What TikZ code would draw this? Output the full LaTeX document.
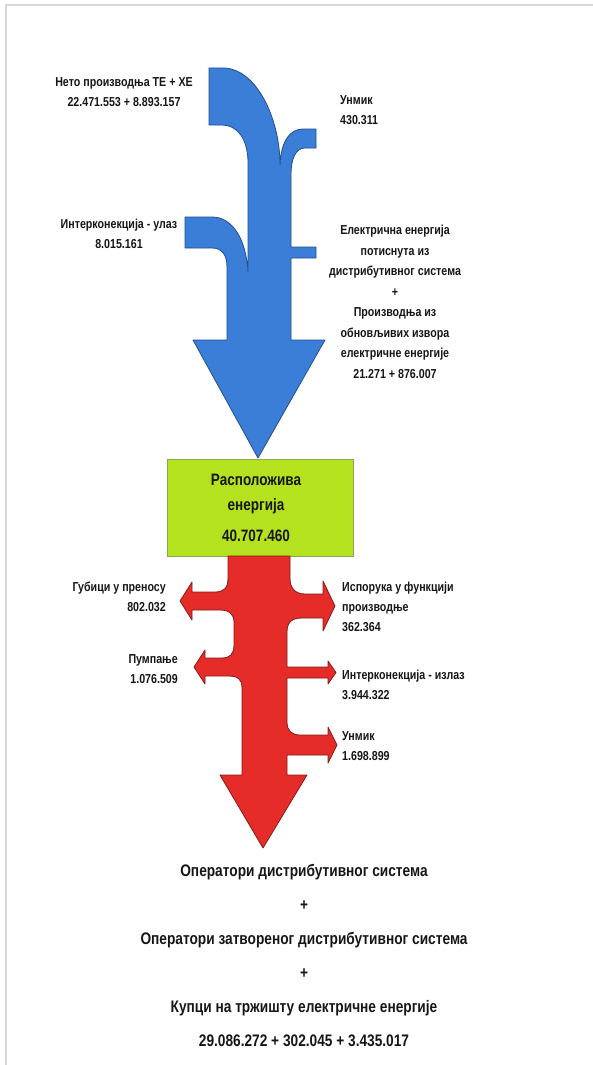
\documentclass[tikz,border=0pt]{standalone}
\usepackage{fontspec}
\setmainfont{Liberation Sans}[FakeStretch=0.82]
\usepackage{tikz}
\usetikzlibrary{positioning}
\definecolor{flowblue}{RGB}{58,126,216}
\definecolor{flowblueedge}{RGB}{38,78,140}
\definecolor{flowred}{RGB}{230,44,40}
\definecolor{flowrededge}{RGB}{130,28,28}
\definecolor{availgreen}{RGB}{180,226,30}
\definecolor{availedge}{RGB}{138,168,84}
\definecolor{txt}{RGB}{22,22,22}
\definecolor{frame}{RGB}{215,215,215}
\newcommand{\lblfont}{\fontsize{13}{20}\selectfont\bfseries}
\newcommand{\bigfont}{\fontsize{16.5}{25}\selectfont\bfseries}
\newcommand{\sinkfont}{\fontsize{16.7}{34}\selectfont\bfseries}
\tikzset{
  lbl/.style={inner sep=0pt, font=\lblfont, text=txt},
  inflow/.style={fill=flowblue, draw=flowblueedge, line width=0.8pt, line join=round},
  outflow/.style={fill=flowred, draw=flowrededge, line width=0.8pt, line join=round},
  availbox/.style={rectangle, fill=availgreen, draw=availedge, line width=0.8pt,
                   minimum width=186pt, minimum height=97pt, inner sep=0pt},
}
\begin{document}
\begin{tikzpicture}[x=1pt, y=-1pt]
  \useasboundingbox (0,0) rectangle (593,1065);
  \draw[frame, line width=1.2pt] (6,1065) -- (6,5) -- (593,5);

  \path[inflow] (209,68) -- (223,68) .. controls (256,68) and (280,118) .. (280,165)
    .. controls (281,141) and (290,129) .. (303,129) -- (316,129) -- (316,148)
    -- (305,148) .. controls (296,148) and (291,158) .. (291,175)
    -- (291,247) -- (316,247) -- (316,258) -- (291,258) -- (291,340)
    -- (325,340) -- (258,458) -- (193,340) -- (227,340) -- (227,267)
    .. controls (227,255) and (222,248) .. (212,248) -- (185,248) -- (185,217)
    -- (212,217) .. controls (232,217) and (246,238) .. (248,272)
    -- (248,160) .. controls (247,138) and (237,125) .. (222,125) -- (209,125) -- cycle;

  \node[availbox] (avail) at (260,507.5) {};
  \node[inner sep=0pt, font=\bigfont, text=txt, align=center, anchor=north]
    (availtxt) at (256,474) {Расположива\\енергија\\[6pt]40.707.460};

  \path[outflow] (228,556) -- (290,556) -- (290,578) .. controls (290,588) and (295,594) .. (305,594)
    -- (323,594) -- (323,581) -- (335,606) -- (323,631) -- (323,618)
    -- (302,618) .. controls (292,618) and (287,622) .. (287,632)
    -- (287,667) -- (328,667) -- (328,661) -- (336,672.5) -- (328,684) -- (328,678)
    -- (287,678) -- (287,722) .. controls (287,731) and (292,735) .. (300,735)
    -- (328,735) -- (328,727) -- (337,745) -- (328,763) -- (328,755)
    -- (287,755) -- (287,775) -- (307,775) -- (263,848) -- (220,775) -- (242,775)
    -- (242,688) .. controls (242,679) and (238,676) .. (228,676) -- (205,676)
    -- (205,684) -- (194,667) -- (205,650) -- (205,658)
    -- (222,658) .. controls (230,658) and (234,654) .. (234,645)
    -- (234,622) .. controls (234,614) and (229,610) .. (220,610)
    -- (192,610) -- (192,620) -- (180,601) -- (192,582) -- (192,592)
    -- (215,592) .. controls (224,592) and (228,588) .. (228,578) -- cycle;

  \node[lbl, align=center, anchor=north] (netprod) at (124,77)
    {Нето производња ТЕ + ХЕ\\22.471.553 + 8.893.157};
  \node[lbl, align=left, anchor=north west] (unmikin) at (340,95) {Унмик\\430.311};
  \node[lbl, align=center, anchor=north] (icin) at (119,219)
    {Интерконекција - улаз\\8.015.161};
  \node[lbl, align=center, anchor=north, font=\fontsize{13}{20.5}\selectfont\bfseries] (dsoin) at (395,225)
    {Електрична енергија\\потиснута из\\дистрибутивног система\\+\\Производња из\\обновљивих извора\\електричне енергије\\21.271 + 876.007};

  \node[lbl, align=right, anchor=north east] (losses) at (166,582) {Губици у преносу\\802.032};
  \node[lbl, align=right, anchor=north east] (pump) at (178,654) {Пумпање\\1.076.509};
  \node[lbl, align=left, anchor=north west] (prodsup) at (342,582)
    {Испорука у функцији\\производње\\362.364};
  \node[lbl, align=left, anchor=north west] (icout) at (342,670) {Интерконекција - излаз\\3.944.322};
  \node[lbl, align=left, anchor=north west] (unmikout) at (342,731) {Унмик\\1.698.899};

  \node[lbl, font=\sinkfont, align=center, anchor=north] (sinks) at (304,864)
    {Оператори дистрибутивног система\\+\\Оператори затвореног дистрибутивног система\\+\\Купци на тржишту електричне енергије\\29.086.272 + 302.045 + 3.435.017};
\end{tikzpicture}
\end{document}
